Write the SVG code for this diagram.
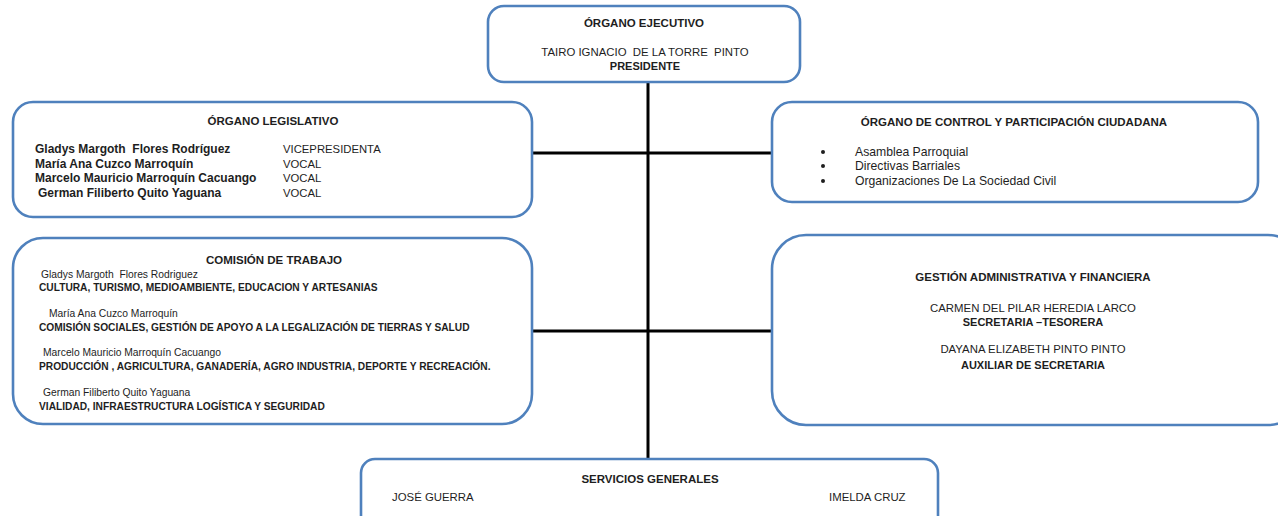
<svg xmlns="http://www.w3.org/2000/svg" width="1278" height="516" viewBox="0 0 1278 516">
<style>
.box{fill:#ffffff;stroke:#4f81bd;stroke-width:2.6}
.conn{stroke:#000000;stroke-width:3;fill:none}
text{font-family:"Liberation Sans",Arial,sans-serif;fill:#1e1e1e;font-size:11.4px;white-space:pre}
.t{font-weight:bold;font-size:11.5px}
.nb{font-weight:bold;font-size:12px}
.r{font-size:11.3px}
.bl{font-size:12.2px}
.s{font-size:10.3px}
.sb{font-weight:bold;font-size:10.2px}
.rb{font-weight:bold;font-size:11px}
.m{text-anchor:middle}
</style>
<rect width="1278" height="516" fill="#ffffff"/>
<g id="connectors">
<line class="conn" x1="648" y1="82" x2="648" y2="460"/>
<line class="conn" x1="532" y1="153" x2="772" y2="153"/>
<line class="conn" x1="532" y1="331" x2="772" y2="331"/>
</g>
<g id="organo-ejecutivo">
<rect class="box" x="488" y="6" width="312" height="76" rx="16"/>
<text class="t m" x="644" y="27">ÓRGANO EJECUTIVO</text>
<text class="m" x="645" y="56" xml:space="preserve">TAIRO IGNACIO  DE LA TORRE  PINTO</text>
<text class="rb m" x="645" y="70">PRESIDENTE</text>
</g>
<g id="organo-legislativo">
<rect class="box" x="13" y="102" width="519" height="115" rx="20"/>
<text class="t m" x="273" y="125">ÓRGANO LEGISLATIVO</text>
<text class="nb" x="35" y="153" xml:space="preserve">Gladys Margoth  Flores Rodríguez</text>
<text class="r" x="283" y="153">VICEPRESIDENTA</text>
<text class="nb" x="35" y="168">María Ana Cuzco Marroquín</text>
<text class="r" x="283" y="168">VOCAL</text>
<text class="nb" x="35" y="182">Marcelo Mauricio Marroquín Cacuango</text>
<text class="r" x="283" y="182">VOCAL</text>
<text class="nb" x="38" y="197">German Filiberto Quito Yaguana</text>
<text class="r" x="283" y="197">VOCAL</text>
</g>
<g id="organo-control">
<rect class="box" x="772" y="102" width="486" height="100" rx="20"/>
<text class="t m" x="1014" y="126">ÓRGANO DE CONTROL Y PARTICIPACIÓN CIUDADANA</text>
<circle cx="823" cy="152" r="2" fill="#1e1e1e"/>
<circle cx="823" cy="166" r="2" fill="#1e1e1e"/>
<circle cx="823" cy="181" r="2" fill="#1e1e1e"/>
<text class="bl" x="855" y="156">Asamblea Parroquial</text>
<text class="bl" x="855" y="170">Directivas Barriales</text>
<text class="bl" x="855" y="185">Organizaciones De La Sociedad Civil</text>
</g>
<g id="comision-trabajo">
<rect class="box" x="13" y="238" width="519" height="186" rx="30"/>
<text class="t m" x="274" y="264">COMISIÓN DE TRABAJO</text>
<text class="s" x="41" y="278" xml:space="preserve">Gladys Margoth  Flores Rodriguez</text>
<text class="sb" x="39" y="291">CULTURA, TURISMO, MEDIOAMBIENTE, EDUCACION Y ARTESANIAS</text>
<text class="s" x="49" y="317">María Ana Cuzco Marroquín</text>
<text class="sb" x="39" y="331">COMISIÓN SOCIALES, GESTIÓN DE APOYO A LA LEGALIZACIÓN DE TIERRAS Y SALUD</text>
<text class="s" x="43" y="356">Marcelo Mauricio Marroquín Cacuango</text>
<text class="sb" x="39" y="370">PRODUCCIÓN , AGRICULTURA, GANADERÍA, AGRO INDUSTRIA, DEPORTE Y RECREACIÓN.</text>
<text class="s" x="43" y="396">German Filiberto Quito Yaguana</text>
<text class="sb" x="39" y="410">VIALIDAD, INFRAESTRUCTURA LOGÍSTICA Y SEGURIDAD</text>
</g>
<g id="gestion-administrativa">
<rect class="box" x="772" y="235" width="530" height="190" rx="34"/>
<text class="t m" x="1033" y="281">GESTIÓN ADMINISTRATIVA Y FINANCIERA</text>
<text class="m" x="1033" y="312">CARMEN DEL PILAR HEREDIA LARCO</text>
<text class="rb m" x="1033" y="326">SECRETARIA –TESORERA</text>
<text class="m" x="1033" y="353">DAYANA ELIZABETH PINTO PINTO</text>
<text class="rb m" x="1033" y="369">AUXILIAR DE SECRETARIA</text>
</g>
<g id="servicios-generales">
<rect class="box" x="361" y="459" width="577" height="72" rx="14"/>
<text class="t m" x="650" y="483">SERVICIOS GENERALES</text>
<text x="392" y="501">JOSÉ GUERRA</text>
<text x="829" y="501">IMELDA CRUZ</text>
</g>
</svg>
